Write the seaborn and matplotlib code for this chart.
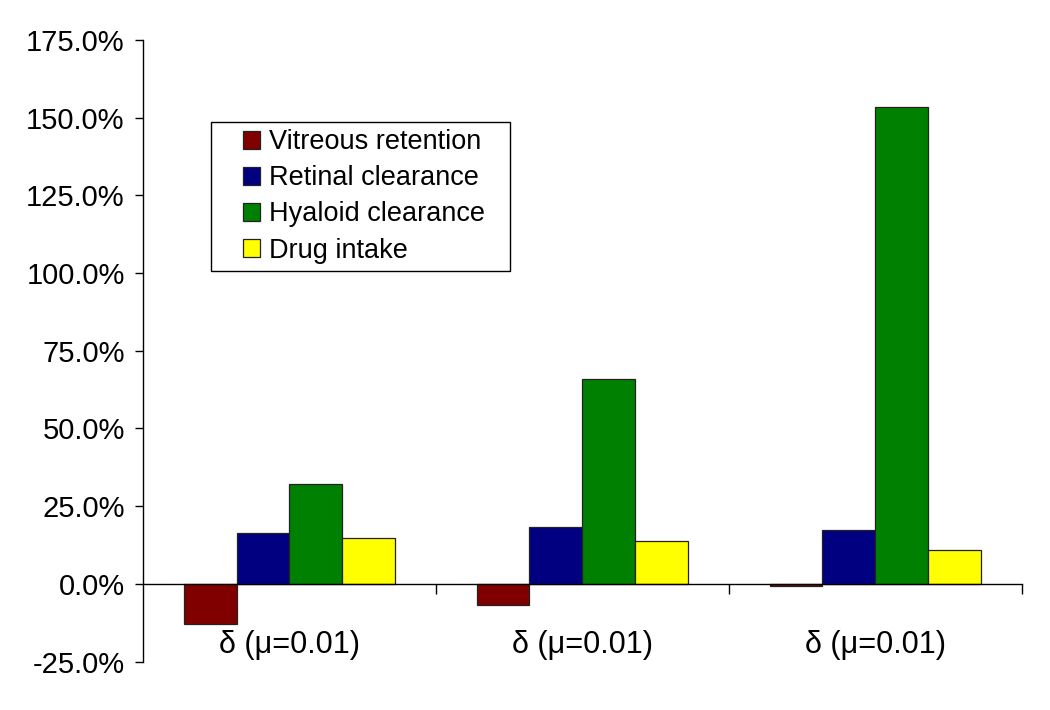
import pandas as pd
import matplotlib
matplotlib.use("Agg")
import matplotlib.pyplot as plt
import seaborn as sns
from matplotlib.ticker import PercentFormatter, FixedLocator
from matplotlib.patches import Rectangle
from matplotlib.legend_handler import HandlerPatch

# data (percent change)
groups = ["g1", "g2", "g3"]
group_labels = ["δ (μ=0.01)", "δ (μ=0.01)", "δ (μ=0.01)"]
series = ["Vitreous retention", "Retinal clearance", "Hyaloid clearance", "Drug intake"]
vitreous = [-12.9, -6.7, -0.6]
retinal = [16.4, 18.2, 17.5]
hyaloid = [32.3, 65.9, 153.4]
intake = [14.7, 13.8, 11.0]
colors = ["#800000", "#000080", "#008000", "#FFFF00"]

rows = []
for name, vals in zip(series, [vitreous, retinal, hyaloid, intake]):
    for g, v in zip(groups, vals):
        rows.append({"group": g, "series": name, "value": v})
df = pd.DataFrame(rows)

sns.set_style("ticks")
plt.rcParams["font.family"] = ["Liberation Sans", "DejaVu Sans"]
plt.rcParams["axes.unicode_minus"] = False
for k in ["text.color", "xtick.color", "ytick.color", "axes.labelcolor", "axes.edgecolor"]:
    plt.rcParams[k] = "black"

fig = plt.figure(figsize=(10.5, 7.1), dpi=100)
ax = fig.add_axes([0.136, 0.068, 0.837, 0.876])

sns.barplot(data=df, x="group", y="value", hue="series", order=groups,
            hue_order=series, palette=colors, width=0.72, gap=0,
            edgecolor="#222222", linewidth=0.9, ax=ax, saturation=1)

ax.set_xlim(-0.5, len(groups) - 0.5)
ax.set_ylim(-25, 175)
ax.set_yticks(range(-25, 176, 25))
ax.yaxis.set_major_formatter(PercentFormatter(decimals=1))
ax.tick_params(axis="y", labelsize=21, length=6, width=1, pad=7)

ax.spines["bottom"].set_position(("data", 0))
ax.spines["top"].set_visible(False)
ax.spines["right"].set_visible(False)
for s in ["left", "bottom"]:
    ax.spines[s].set_linewidth(1)

ax.set_xticks(range(len(groups)))
ax.set_xticklabels(group_labels)
ax.xaxis.set_minor_locator(FixedLocator([i + 0.5 for i in range(len(groups))]))
ax.tick_params(axis="x", which="major", length=0, labelsize=22, pad=33)
ax.tick_params(axis="x", which="minor", length=7, width=1)
ax.set_xlabel("")
ax.set_ylabel("")


# small square swatch pushed to the right end of the handle area
def square_swatch(legend, orig_handle, xdescent, ydescent, width, height, fontsize):
    side = height * 0.95
    return Rectangle((width - side - xdescent, (height - side) / 2 - ydescent), side, side)


handles, labels = ax.get_legend_handles_labels()
leg = ax.legend(handles, labels, loc="upper left",
                bbox_to_anchor=(0.0774, 0.633, 0.340, 0.235), mode="expand",
                borderaxespad=0, fontsize=19.5, frameon=True, fancybox=False,
                edgecolor="black", framealpha=1, handlelength=1.55,
                handleheight=0.68, handletextpad=0.33, labelspacing=0.37,
                borderpad=0.28,
                handler_map={Rectangle: HandlerPatch(patch_func=square_swatch)})
leg.get_frame().set_linewidth(1)

fig.savefig("out.png", dpi=100)
